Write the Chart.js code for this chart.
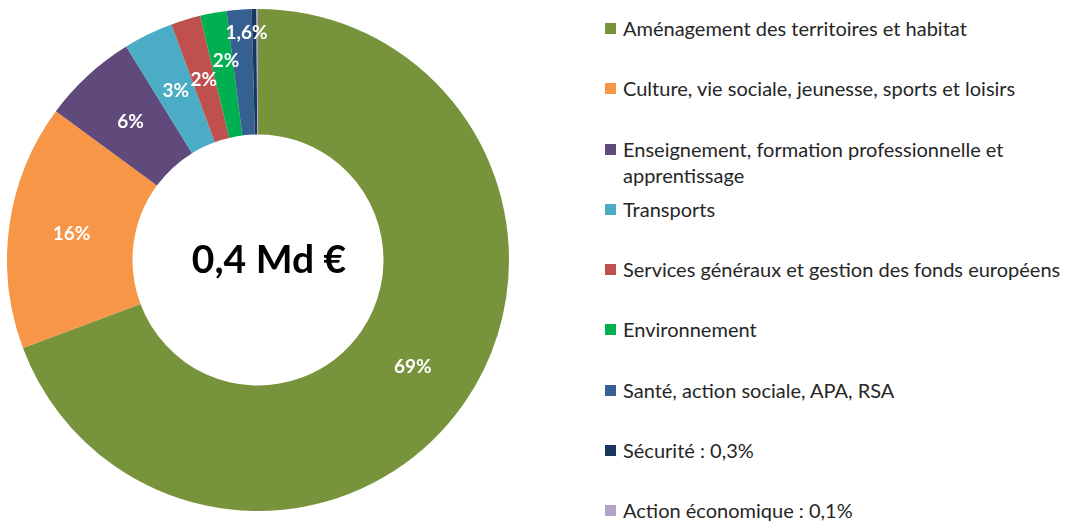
<!DOCTYPE html>
<html lang="fr">
<head>
<meta charset="utf-8">
<script src="https://cdn.jsdelivr.net/npm/chart.js@4.4.0/dist/chart.umd.min.js"></script>
<style>
  html, body { margin: 0; padding: 0; background: #fff; }
  body { width: 1074px; height: 528px; position: relative; overflow: hidden; font-family: Lato, "Open Sans", sans-serif; }
  #wrap { position: absolute; left: 7px; top: 9px; width: 502px; height: 502px; }
  #legende { position: absolute; left: 605px; top: 15px; margin: 0; padding: 0; list-style: none; }
  #legende li { position: relative; height: 60.3px; padding-left: 18px; font-size: 20px; line-height: 26px; color: #262626; white-space: nowrap; }
  #legende li span { position: absolute; left: 0; top: 8px; width: 11px; height: 11px; }
</style>
</head>
<body>
<div id="wrap"><canvas id="donut"></canvas></div>
<ul id="legende"></ul>
<script>
// Répartition des dépenses par fonction
const categories = [
  'Aménagement des territoires et habitat',
  'Culture, vie sociale, jeunesse, sports et loisirs',
  ['Enseignement, formation professionnelle et', 'apprentissage'],
  'Transports',
  'Services généraux et gestion des fonds européens',
  'Environnement',
  'Santé, action sociale, APA, RSA',
  'Sécurité : 0,3%',
  'Action économique : 0,1%'
];
const parts = [69.3, 15.8, 6.1, 3.2, 1.9, 1.7, 1.6, 0.3, 0.1];
const etiquettes = ['69%', '16%', '6%', '3%', '2%', '2%', '1,6%', '', ''];
const couleurs = ['#77933C', '#F79646', '#604A7B', '#4BACC6', '#C0504D', '#00B050', '#376092', '#17375E', '#B3A2C7'];
const totalTexte = '0,4 Md €';

// etiquettes blanches dans les parts
const pluginEtiquettes = {
  id: 'etiquettes',
  afterDatasetsDraw(chart) {
    const ctx = chart.ctx;
    const meta = chart.getDatasetMeta(0);
    ctx.save();
    ctx.fillStyle = '#fff';
    ctx.font = 'bold 19px Lato, sans-serif';
    ctx.textAlign = 'center';
    ctx.textBaseline = 'middle';
    meta.data.forEach((arc, i) => {
      if (!etiquettes[i]) return;
      let a = (arc.startAngle + arc.endAngle) / 2;
      let f = 0.5;
      if (parts[i] < 1.65) { f = 0.81; a += 0.025; }
      else if (parts[i] < 1.8) { f = 0.61; a += 0.02; }
      const r = arc.innerRadius + (arc.outerRadius - arc.innerRadius) * f;
      ctx.fillText(etiquettes[i], arc.x + Math.cos(a) * r, arc.y + Math.sin(a) * r);
    });
    ctx.restore();
  }
};

// montant total au centre
const pluginCentre = {
  id: 'centre',
  afterDraw(chart) {
    const arc = chart.getDatasetMeta(0).data[0];
    const ctx = chart.ctx;
    ctx.save();
    ctx.fillStyle = '#000';
    ctx.font = 'bold 39px Lato, sans-serif';
    ctx.textAlign = 'center';
    ctx.textBaseline = 'middle';
    ctx.fillText(totalTexte, arc.x + 11, arc.y);
    ctx.restore();
  }
};

const chart = new Chart(document.getElementById('donut'), {
  type: 'doughnut',
  data: {
    labels: categories,
    datasets: [{ data: parts, backgroundColor: couleurs, borderWidth: 0 }]
  },
  options: {
    responsive: true,
    maintainAspectRatio: false,
    animation: false,
    cutout: '50%',
    layout: { padding: 0 },
    plugins: { legend: { display: false }, tooltip: { enabled: false } }
  },
  plugins: [pluginEtiquettes, pluginCentre]
});

// legende a droite
const ul = document.getElementById('legende');
categories.forEach((c, i) => {
  const li = document.createElement('li');
  const sq = document.createElement('span');
  sq.style.background = couleurs[i];
  li.appendChild(sq);
  const lignes = Array.isArray(c) ? c : [c];
  lignes.forEach((t, k) => {
    if (k) li.appendChild(document.createElement('br'));
    li.appendChild(document.createTextNode(t));
  });
  ul.appendChild(li);
});
</script>
</body>
</html>
